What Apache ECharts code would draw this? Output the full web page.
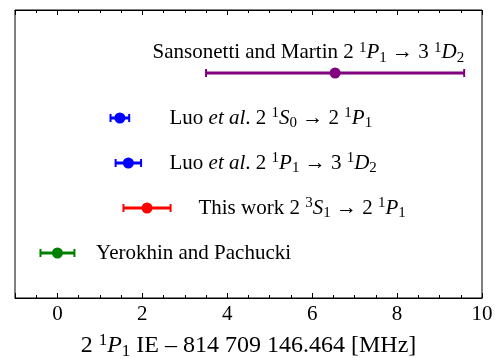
<!DOCTYPE html>
<html>
<head>
<meta charset="utf-8">
<script src="https://cdn.jsdelivr.net/npm/echarts@6/dist/echarts.min.js"></script>
<style>
  html, body { margin: 0; padding: 0; background: #fff; }
  #chart { width: 495px; height: 358px; }
</style>
</head>
<body>
<div id="chart"></div>
<script>
// measurements, bottom row first
const labels = [
  '{n|Yerokhin and Pachucki}',
  '{n|This work 2 }{sup|3}{i|S}{sub|1}{n| → 2 }{sup|1}{i|P}{sub|1}',
  '{n|Luo }{i|et al}{n|. 2 }{sup|1}{i|P}{sub|1}{n| → 3 }{sup|1}{i|D}{sub|2}',
  '{n|Luo }{i|et al}{n|. 2 }{sup|1}{i|S}{sub|0}{n| → 2 }{sup|1}{i|P}{sub|1}',
  '{n|Sansonetti and Martin 2 }{sup|1}{i|P}{sub|1}{n| → 3 }{sup|1}{i|D}{sub|2}',
];
const rows = [0, 1, 2, 3, 4];
const values = [0, 2.11, 1.67, 1.47, 6.54];
const errors = [0.40, 0.555, 0.30, 0.22, 3.04];
const colors = ['#008000', '#ff0000', '#0000ff', '#0000ff', '#800080'];
// where each label starts, in data units
const labelX = [0.91, 3.32, 2.64, 2.64, 2.24];
const labelY = [0, 1, 2, 3, 4.45];

const FONT = '"Liberation Serif", "Times New Roman", serif';

function makeRich(size) {
  const small = Math.round(size * 0.7);
  return {
    n: { fontFamily: FONT, fontSize: size, lineHeight: size + 4, color: '#000' },
    i: { fontFamily: FONT, fontSize: size, lineHeight: size + 4, fontStyle: 'italic', color: '#000' },
    sup: { fontFamily: FONT, fontSize: small, lineHeight: small, verticalAlign: 'top', color: '#000' },
    sub: { fontFamily: FONT, fontSize: small, lineHeight: small - 3, verticalAlign: 'bottom', color: '#000' },
  };
}
const rich = makeRich(21);
const titleRich = makeRich(24);

const chart = echarts.init(document.getElementById('chart'));

const xAxisBase = {
  type: 'value',
  min: -1,
  max: 10,
  splitNumber: 5,
  axisLine: { show: true, onZero: false, lineStyle: { color: '#000', width: 1 } },
  axisTick: { show: true, inside: true, length: 5, lineStyle: { color: '#000' } },
  minorTick: { show: true, splitNumber: 4, length: 3, lineStyle: { color: '#000' } },
  splitLine: { show: false },
};

chart.setOption({
  animation: false,
  grid: {
    left: 15, right: 13, top: 10, bottom: 60,
    outerBoundsMode: 'none',
    containLabel: false,
    show: true, borderColor: '#000', borderWidth: 1,
  },
  xAxis: [
    Object.assign({}, xAxisBase, {
      position: 'bottom',
      axisLabel: {
        showMinLabel: false,
        fontFamily: FONT, fontSize: 21, color: '#000', margin: 6,
      },
      name: '{n|2 }{sup|1}{i|P}{sub|1}{n| IE – 814 709 146.464 [MHz]}',
      nameLocation: 'middle',
      nameGap: 34,
      nameTextStyle: { rich: titleRich },
    }),
    Object.assign({}, xAxisBase, {
      position: 'top',
      axisLabel: { show: false },
    }),
  ],
  yAxis: { type: 'value', min: -1, max: 5.4, show: false },
  series: [{
    type: 'custom',
    data: rows.map((r, k) => [values[k], r, errors[k]]),
    renderItem(params, api) {
      const k = params.dataIndex;
      const x = api.value(0), y = api.value(1), e = api.value(2);
      const c = api.coord([x, y]);
      const lo = api.coord([x - e, y]);
      const hi = api.coord([x + e, y]);
      const t = api.coord([labelX[k], labelY[k]]);
      const col = colors[k];
      return {
        type: 'group',
        children: [
          { type: 'line', shape: { x1: lo[0], y1: c[1], x2: hi[0], y2: c[1] }, style: { stroke: col, lineWidth: 3 } },
          { type: 'line', shape: { x1: lo[0], y1: c[1] - 4, x2: lo[0], y2: c[1] + 4 }, style: { stroke: col, lineWidth: 2 } },
          { type: 'line', shape: { x1: hi[0], y1: c[1] - 4, x2: hi[0], y2: c[1] + 4 }, style: { stroke: col, lineWidth: 2 } },
          { type: 'circle', shape: { cx: c[0], cy: c[1], r: 5.5 }, style: { fill: col } },
          {
            type: 'text',
            style: {
              x: t[0], y: t[1],
              text: labels[k],
              rich: rich,
              align: 'left',
              verticalAlign: 'middle',
              fill: '#000',
            },
          },
        ],
      };
    },
  }],
});
</script>
</body>
</html>
